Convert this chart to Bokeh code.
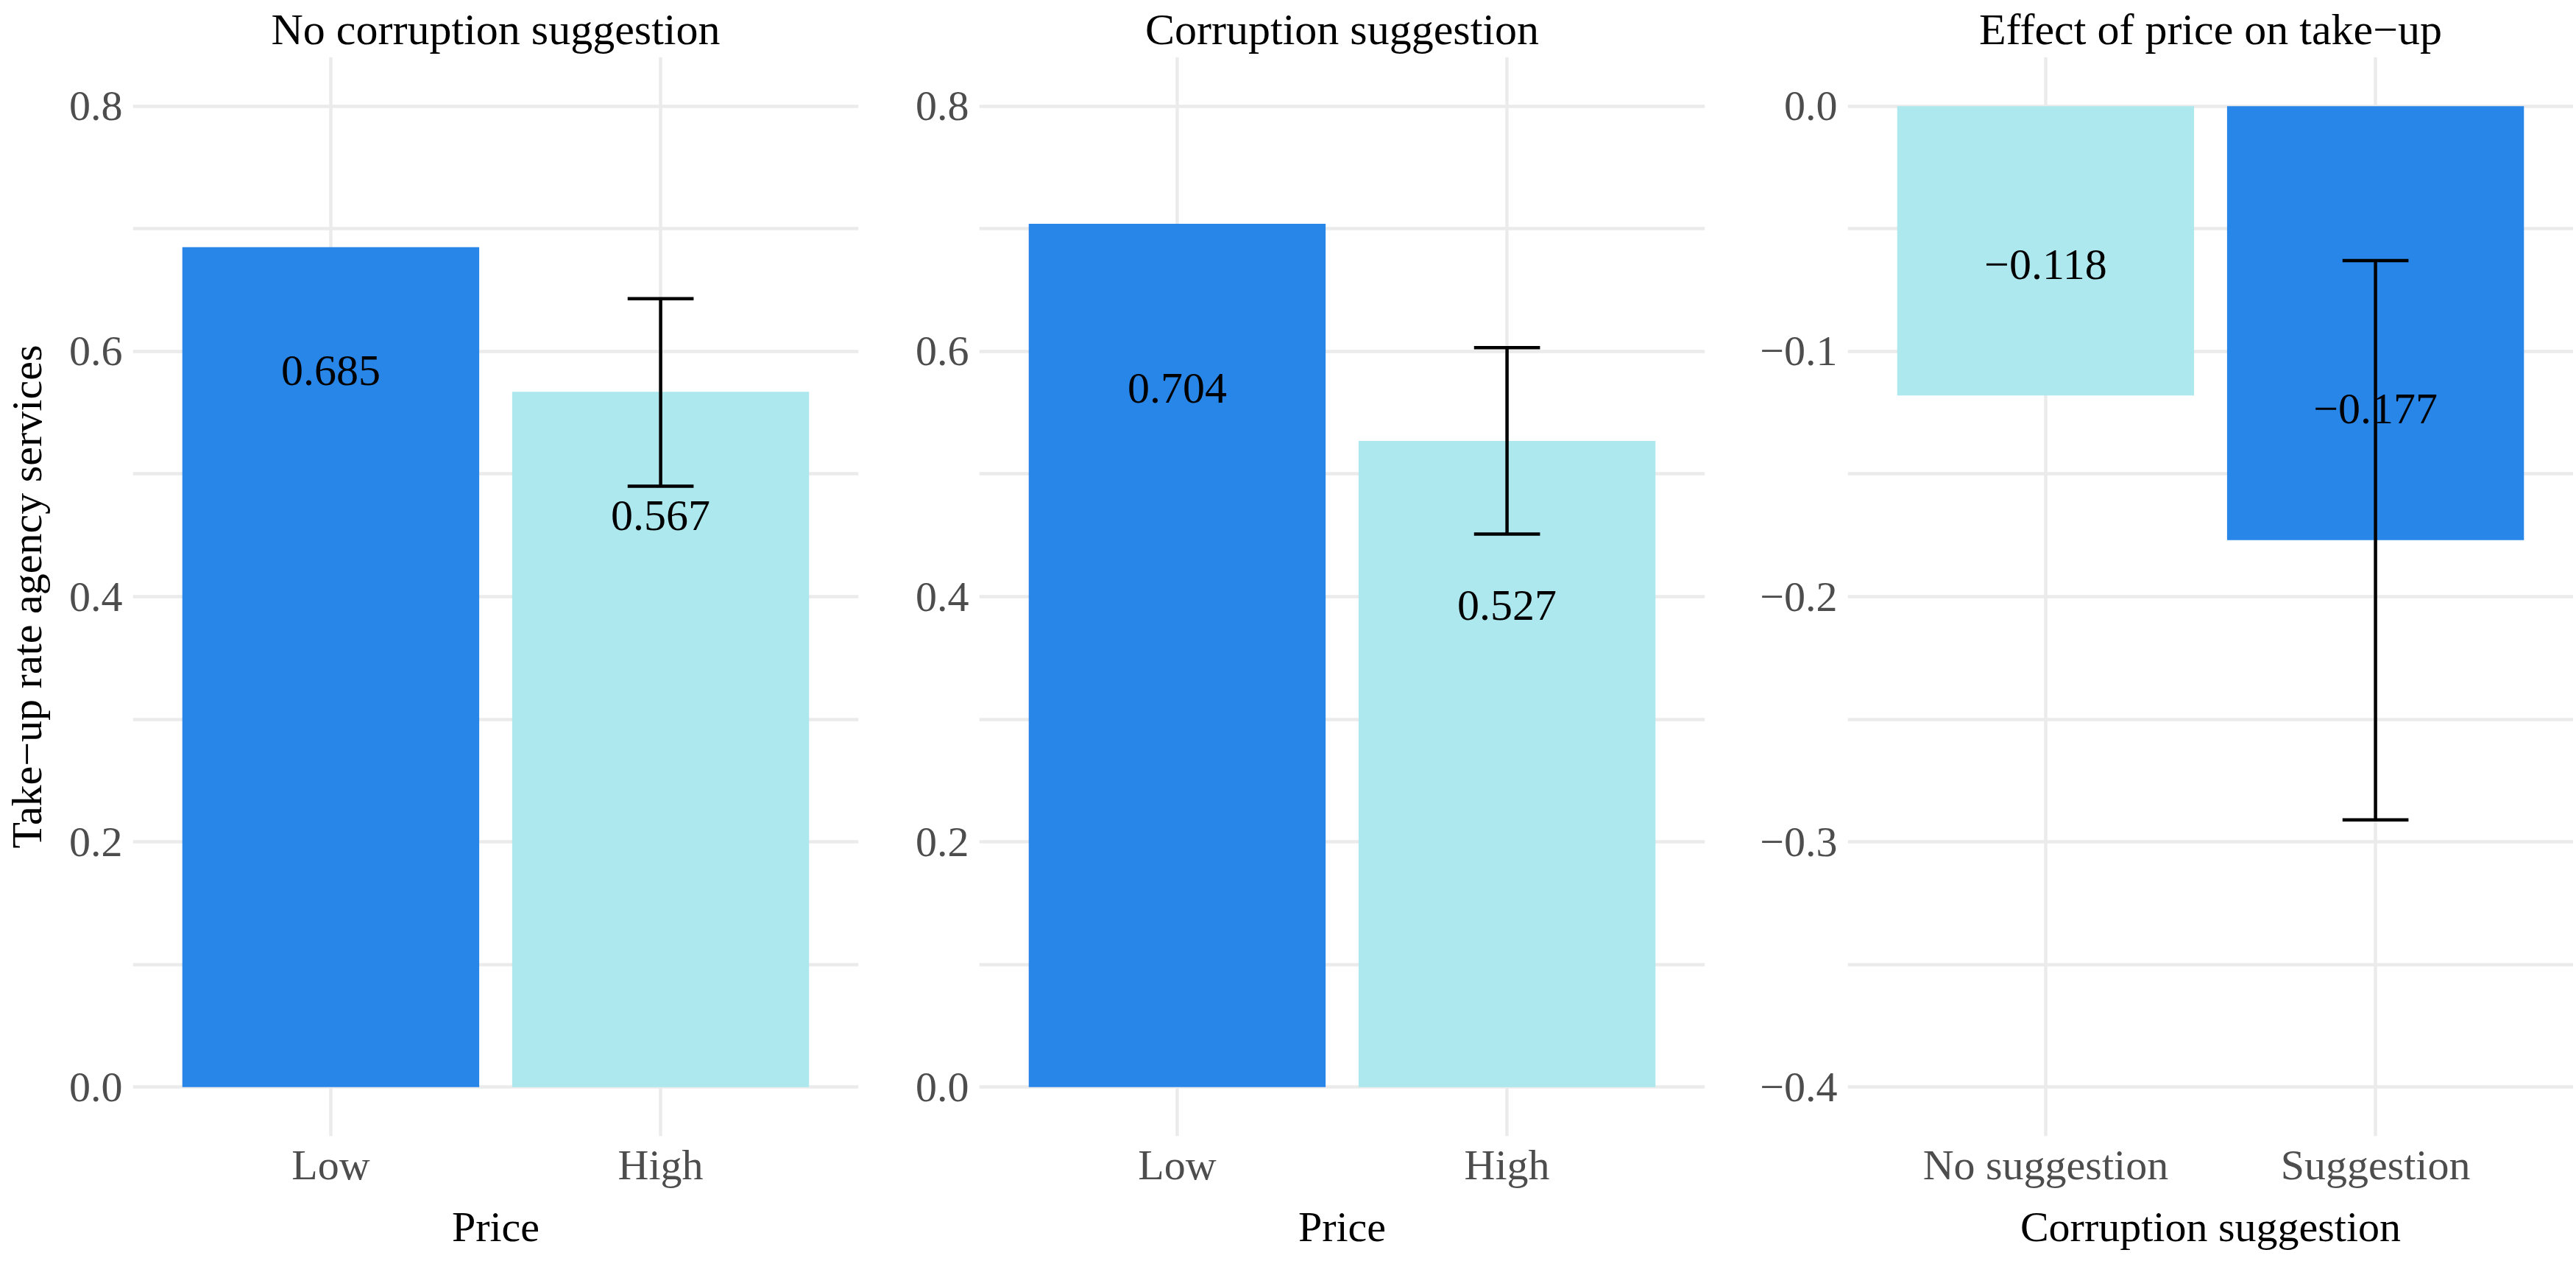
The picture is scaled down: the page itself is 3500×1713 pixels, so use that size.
import numpy as np
from bokeh.plotting import figure
from bokeh.layouts import row
from bokeh.models import Range1d, FixedTicker, CustomJSTickFormatter, ColumnDataSource
from bokeh.core.properties import value
from bokeh.embed import file_html
from bokeh.resources import INLINE

# ---------------- data ----------------
price_cats = ["Low", "High"]
sugg_cats = ["No suggestion", "Suggestion"]

no_sugg_values = [0.685, 0.567]
no_sugg_ci_low = [np.nan, 0.490]
no_sugg_ci_high = [np.nan, 0.643]

sugg_values = [0.704, 0.527]
sugg_ci_low = [np.nan, 0.451]
sugg_ci_high = [np.nan, 0.603]

effect_values = [-0.118, -0.177]
effect_ci_low = [np.nan, -0.291]
effect_ci_high = [np.nan, -0.063]

titles = ["No corruption suggestion", "Corruption suggestion", "Effect of price on take\u2212up"]
y_title = "Take\u2212up rate agency services"
x_titles = ["Price", "Price", "Corruption suggestion"]

# ---------------- style ----------------
DARK = "#2986E9"
LIGHT = "#ADE8EF"
GRID = "#EBEBEB"
TICK_COL = "#4D4D4D"
FONT = "Liberation Serif"
FRAME_W = 986
FRAME_H = 1466


def fmt(v):
    return f"{v:.3f}".replace("-", "\u2212")


def make_panel(cats, vals, lo, hi, colors, title, xlab, ylab, yr, yticks, ygrid, label_off,
               left_border, right_border):
    p = figure(frame_width=FRAME_W, frame_height=FRAME_H,
               x_range=Range1d(0.4, 2.6), y_range=Range1d(*yr),
               toolbar_location=None, output_backend="svg",
               min_border_left=left_border, min_border_right=right_border,
               min_border_top=0, min_border_bottom=0)
    p.outline_line_color = None
    p.background_fill_color = "white"
    p.border_fill_color = "white"

    pos = np.arange(1, len(cats) + 1)
    src = ColumnDataSource(dict(
        x=pos, top=vals, color=colors,
        lo=lo, hi=hi,
        cl=pos - 0.1, cr=pos + 0.1,
        ly=np.array(vals) + label_off,
        lab=[fmt(v) for v in vals],
    ))
    p.vbar(x="x", top="top", bottom=0, width=0.9, fill_color="color", line_color=None, source=src)
    p.segment(x0="x", y0="lo", x1="x", y1="hi", line_color="black", line_width=4.5, source=src)
    p.segment(x0="cl", y0="lo", x1="cr", y1="lo", line_color="black", line_width=4.5, source=src)
    p.segment(x0="cl", y0="hi", x1="cr", y1="hi", line_color="black", line_width=4.5, source=src)
    p.text(x="x", y="ly", text="lab", source=src, text_font=value(FONT),
           text_font_size=value("60px"), text_align="center", text_baseline="middle",
           text_color="black")

    # title
    p.title.text = title
    p.title.align = "center"
    p.title.text_font = FONT
    p.title.text_font_size = "60px"
    p.title.text_font_style = "normal"
    p.title.text_color = "black"
    p.title.standoff = 9

    # grids
    p.xgrid.ticker = FixedTicker(ticks=list(pos))
    p.ygrid.ticker = FixedTicker(ticks=ygrid)
    for g in (p.xgrid[0], p.ygrid[0]):
        g.grid_line_color = GRID
        g.grid_line_width = 4.5

    # x axis
    xa = p.xaxis[0]
    xa.ticker = FixedTicker(ticks=list(pos))
    xa.formatter = CustomJSTickFormatter(args=dict(labels=cats),
                                         code="return labels[Math.round(tick) - 1] || '';")
    xa.axis_label = xlab
    # y axis
    ya = p.yaxis[0]
    ya.ticker = FixedTicker(ticks=yticks)
    ya.formatter = CustomJSTickFormatter(code="return tick.toFixed(1).replace('-', '\u2212');")
    if ylab:
        ya.axis_label = ylab
    for ax in (xa, ya):
        ax.axis_line_color = None
        ax.major_tick_line_color = None
        ax.minor_tick_line_color = None
        ax.major_tick_out = 0
        ax.major_tick_in = 0
        ax.major_label_text_font = FONT
        ax.major_label_text_font_size = "58px"
        ax.major_label_text_color = TICK_COL
        ax.axis_label_text_font = FONT
        ax.axis_label_text_font_size = "58px"
        ax.axis_label_text_font_style = "normal"
        ax.axis_label_text_color = "black"
    xa.major_label_standoff = 6
    xa.axis_label_standoff = 16
    ya.major_label_standoff = 14
    ya.axis_label_standoff = 22
    return p


top_ticks = [0.0, 0.2, 0.4, 0.6, 0.8]
top_grid = [0.0, 0.1, 0.2, 0.3, 0.4, 0.5, 0.6, 0.7, 0.8]
eff_ticks = [0.0, -0.1, -0.2, -0.3, -0.4]
eff_grid = [0.0, -0.05, -0.1, -0.15, -0.2, -0.25, -0.3, -0.35, -0.4]

p1 = make_panel(price_cats, no_sugg_values, no_sugg_ci_low, no_sugg_ci_high, [DARK, LIGHT],
                titles[0], x_titles[0], y_title, (-0.04, 0.84), top_ticks, top_grid, -0.101,
                170, 74)
p2 = make_panel(price_cats, sugg_values, sugg_ci_low, sugg_ci_high, [DARK, LIGHT],
                titles[1], x_titles[1], None, (-0.04, 0.84), top_ticks, top_grid, -0.134,
                86, 72)
p3 = make_panel(sugg_cats, effect_values, effect_ci_low, effect_ci_high, [LIGHT, DARK],
                titles[2], x_titles[2], None, (-0.42, 0.02), eff_ticks, eff_grid, 0.0535,
                120, 0)

layout = row(p1, p2, p3)
open("out.html", "w").write(file_html(layout, INLINE))
